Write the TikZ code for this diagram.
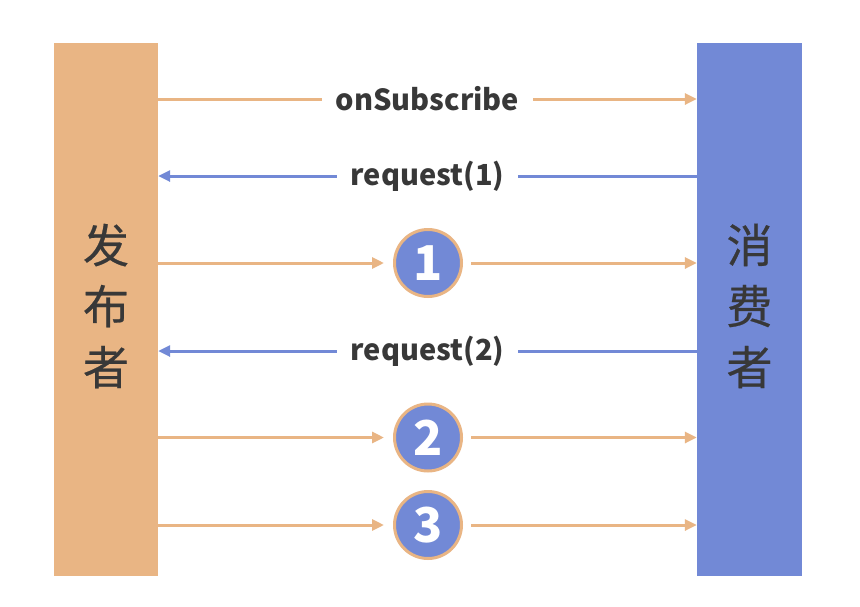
\documentclass[tikz,border=0pt]{standalone}
\usepackage{fontspec}
\setmainfont{Noto Sans CJK SC}
\newfontfamily\cjkmed[FakeBold=0.5]{Noto Sans CJK SC}
\usetikzlibrary{arrows.meta}
\definecolor{orng}{HTML}{E9B584}
\definecolor{blu}{HTML}{7289D6}
\definecolor{txt}{HTML}{383838}
\tikzset{
  bar/.style={rectangle, minimum width=104pt, minimum height=533pt, inner sep=0pt},
  sidetext/.style={text=txt, font=\cjkmed\fontsize{46}{61}\selectfont, align=center},
  lbl/.style={fill=white, text=txt, inner xsep=14pt, inner ysep=2pt, font=\bfseries\fontsize{29}{32}\selectfont},
  num/.style={circle, fill=blu, draw=orng, line width=3pt, minimum size=67pt, inner sep=0pt, text=white, font=\bfseries\fontsize{48}{48}\selectfont},
  oarr/.style={orng, line width=3pt, -{Triangle[length=12pt,width=11pt]}},
  barr/.style={blu, line width=3pt, -{Triangle[length=12pt,width=11pt]}},
}
\begin{document}
\begin{tikzpicture}[x=1pt,y=-1pt]
\useasboundingbox[fill=white] (0,0) rectangle (860,606);
\node[bar, fill=orng] (pub) at (106,309.5) {};
\node[bar, fill=blu, minimum width=105pt] (con) at (749.5,309.5) {};
\node[sidetext] (pubt) at (106,306) {发\\布\\者};
\node[sidetext] (cont) at (749.5,306) {消\\费\\者};
% onSubscribe
\coordinate (a1) at (pub.east |- 0,99);
\coordinate (b1) at (con.west |- 0,99);
\draw[oarr] (a1) -- (b1) node[lbl, midway] (l1) {onSubscribe};
% request(1)
\coordinate (a2) at (pub.east |- 0,176);
\coordinate (b2) at (con.west |- 0,176);
\draw[barr] (b2) -- (a2) node[lbl, midway] (l2) {request(1)};
% 1
\node[num] (n1) at (428,263) {1};
\draw[oarr, shorten >=9pt] (pub.east |- n1) -- (n1.west);
\draw[oarr, shorten <=8pt] (n1.east) -- (con.west |- n1);
% request(2)
\coordinate (a4) at (pub.east |- 0,351);
\coordinate (b4) at (con.west |- 0,351);
\draw[barr] (b4) -- (a4) node[lbl, midway] (l4) {request(2)};
% 2
\node[num] (n2) at (428,437.5) {2};
\draw[oarr, shorten >=9pt] (pub.east |- n2) -- (n2.west);
\draw[oarr, shorten <=8pt] (n2.east) -- (con.west |- n2);
% 3
\node[num] (n3) at (428,525) {3};
\draw[oarr, shorten >=9pt] (pub.east |- n3) -- (n3.west);
\draw[oarr, shorten <=8pt] (n3.east) -- (con.west |- n3);
\end{tikzpicture}
\end{document}
